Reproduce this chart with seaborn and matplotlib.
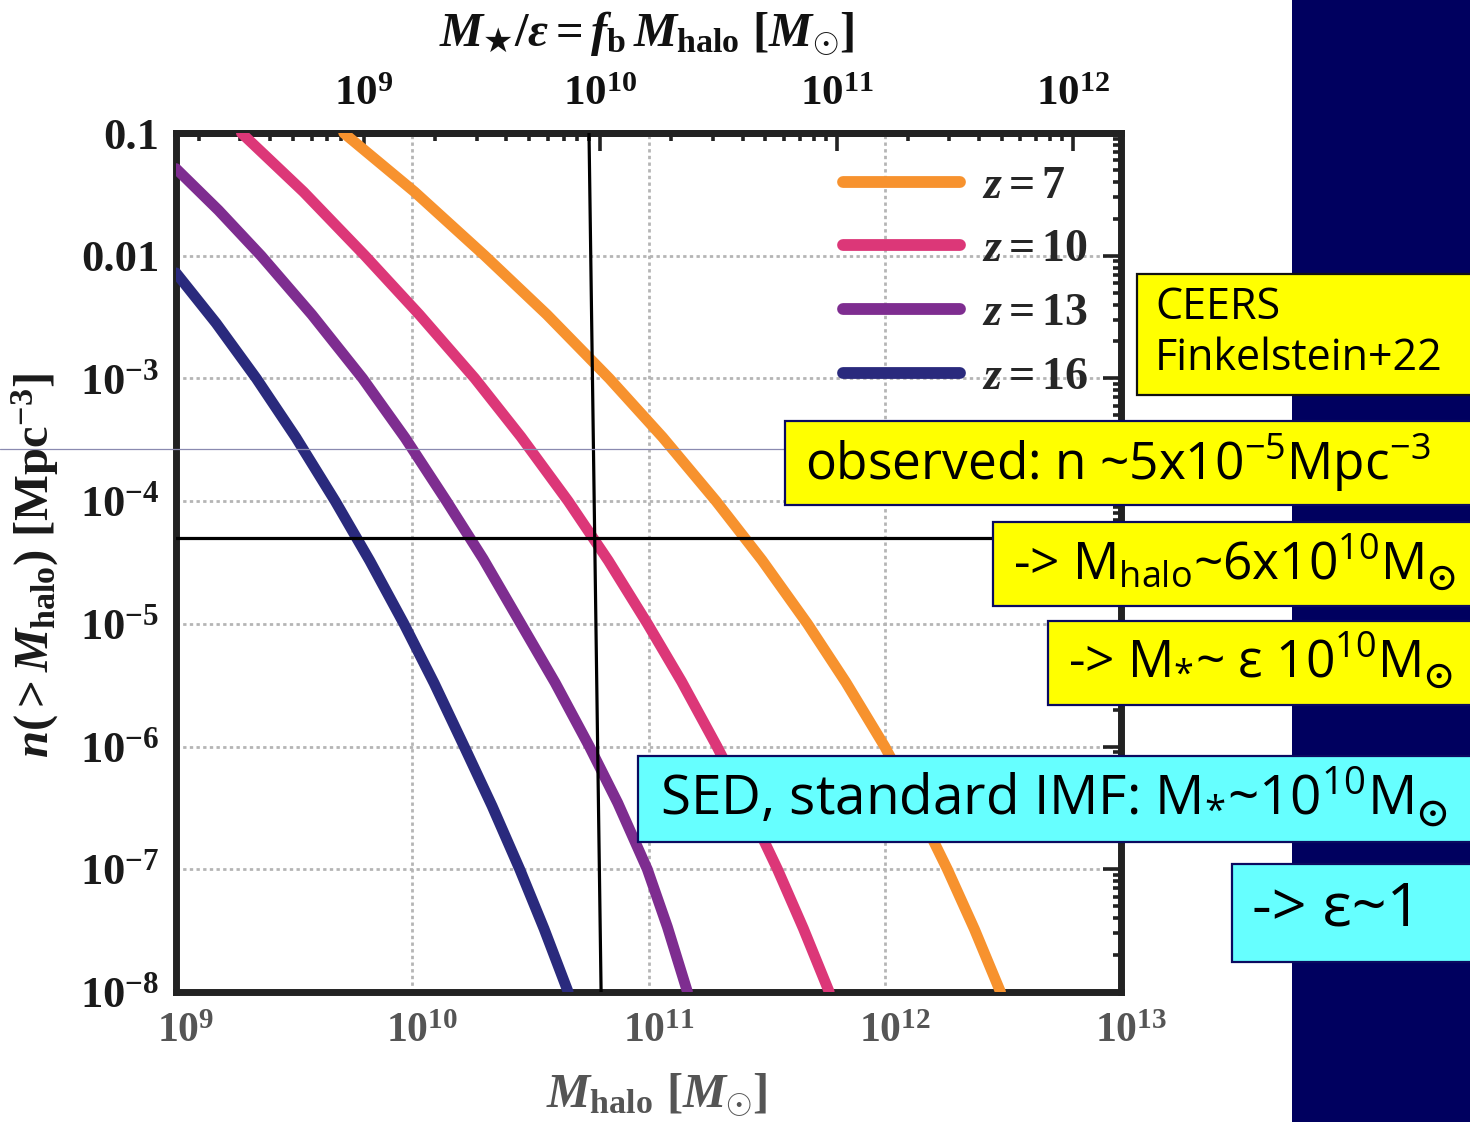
import numpy as np
import pandas as pd
import matplotlib
matplotlib.use("Agg")
import matplotlib.pyplot as plt
import matplotlib.transforms as mtransforms
import seaborn as sns
from matplotlib.ticker import FixedLocator, FixedFormatter, LogLocator, NullFormatter
from matplotlib.patches import Rectangle
from matplotlib.lines import Line2D

# ---------------------------------------------------------------- data
z_labels = ["$z = 7$", "$z = 10$", "$z = 13$", "$z = 16$"]
z_colors = ["#F7922E", "#DC3778", "#7E2D90", "#2A2A7D"]

# cumulative halo number density: log10 M_halo [Msun] vs log10 n(>M_halo) [Mpc^-3]
logM_z7 = [9.71, 10.01, 10.307, 10.57, 10.834, 11.06, 11.286, 11.48, 11.673,
           11.835, 12.00, 12.13, 12.265, 12.38, 12.49]
logn_z7 = [-1.00, -1.48, -2.00, -2.48, -3.00, -3.48, -4.00, -4.48, -5.00,
           -5.475, -6.00, -6.47, -7.00, -7.49, -8.00]

logM_z10 = [9.277, 9.54, 9.80, 10.03, 10.265, 10.46, 10.66, 10.83, 10.996,
            11.14, 11.29, 11.42, 11.546, 11.655, 11.765]
logn_z10 = [-1.00, -1.48, -2.00, -2.48, -3.00, -3.475, -4.00, -4.485, -5.00,
            -5.47, -6.00, -6.49, -7.00, -7.48, -8.00]

logM_z13 = [9.00, 9.18, 9.36, 9.575, 9.79, 9.97, 10.145, 10.30, 10.46,
            10.605, 10.75, 10.87, 10.995, 11.08, 11.165]
logn_z13 = [-1.29, -1.63, -2.00, -2.48, -3.00, -3.485, -4.00, -4.47, -5.00,
            -5.48, -6.00, -6.46, -7.00, -7.47, -8.00]

logM_z16 = [9.00, 9.17, 9.34, 9.507, 9.674, 9.82, 9.965, 10.093, 10.22,
            10.338, 10.455, 10.558, 10.66]
logn_z16 = [-2.14, -2.55, -3.00, -3.48, -4.00, -4.485, -5.00, -5.485, -6.00,
            -6.485, -7.00, -7.485, -8.00]

# observed abundance and the halo mass it implies
n_obs = 5e-5
vline_M = [5.6e10, 6.3e10]
vline_n = [0.1, 1e-8]

f_b = 0.16  # baryon fraction: M*/eps = f_b M_halo

x_ticks = [1e9, 1e10, 1e11, 1e12, 1e13]
x_ticklabels = ["$10^{9}$", "$10^{10}$", "$10^{11}$", "$10^{12}$", "$10^{13}$"]
top_ticks = [1e9, 1e10, 1e11, 1e12]
top_ticklabels = ["$10^{9}$", "$10^{10}$", "$10^{11}$", "$10^{12}$"]
y_ticks = [1e-8, 1e-7, 1e-6, 1e-5, 1e-4, 1e-3, 1e-2, 1e-1]
y_ticklabels = ["$10^{-8}$", "$10^{-7}$", "$10^{-6}$", "$10^{-5}$", "$10^{-4}$",
                "$10^{-3}$", "0.01", "0.1"]

frames = []
for lab, lm, ln in zip(z_labels,
                       [logM_z7, logM_z10, logM_z13, logM_z16],
                       [logn_z7, logn_z10, logn_z13, logn_z16]):
    frames.append(pd.DataFrame({"M": 10.0 ** np.array(lm),
                                "n": 10.0 ** np.array(ln),
                                "z": lab}))
df = pd.concat(frames, ignore_index=True)

# ---------------------------------------------------------------- style
sns.set_theme(style="white")
plt.rcParams["font.family"] = ["Liberation Serif", "DejaVu Serif"]
plt.rcParams["font.weight"] = "bold"
plt.rcParams["mathtext.fontset"] = "custom"
plt.rcParams["mathtext.rm"] = "Liberation Serif:bold"
plt.rcParams["mathtext.bf"] = "Liberation Serif:bold"
plt.rcParams["mathtext.it"] = "Liberation Serif:bold:italic"
plt.rcParams["mathtext.cal"] = "Liberation Serif:bold:italic"
plt.rcParams["mathtext.sf"] = "DejaVu Sans:bold"

W, H = 1470, 1122
fig = plt.figure(figsize=(W / 100, H / 100), dpi=100)
ax = fig.add_axes([176 / W, 1 - 992 / H, (1121 - 176) / W, (992 - 133) / H])

sns.lineplot(data=df, x="M", y="n", hue="z", palette=z_colors, sort=False,
             estimator=None, linewidth=7.8, ax=ax, zorder=3)
for ln in ax.get_lines():
    ln.set_solid_joinstyle("round")

ax.set_xscale("log")
ax.set_yscale("log")
ax.set_xlim(1e9, 1e13)
ax.set_ylim(1e-8, 0.1)

# observed density and corresponding halo mass
ax.axhline(n_obs, color="black", lw=2.3, zorder=4)
ax.plot(vline_M, vline_n, color="black", lw=2.3, zorder=4)

# axes frame and ticks
for s in ax.spines.values():
    s.set_linewidth(5)
    s.set_color("#222222")
ax.xaxis.set_major_locator(FixedLocator(x_ticks))
ax.xaxis.set_major_formatter(FixedFormatter(x_ticklabels))
ax.xaxis.set_minor_locator(LogLocator(base=10, subs=np.arange(2, 10), numticks=20))
ax.xaxis.set_minor_formatter(NullFormatter())
ax.yaxis.set_major_locator(FixedLocator(y_ticks))
ax.yaxis.set_major_formatter(FixedFormatter(y_ticklabels))
ax.yaxis.set_minor_locator(LogLocator(base=10, subs=np.arange(2, 10), numticks=20))
ax.yaxis.set_minor_formatter(NullFormatter())
ax.tick_params(which="both", direction="in", top=False, right=True,
               color="#222222", width=2.6)
ax.tick_params(which="major", length=13)
ax.tick_params(which="minor", length=5.5)
ax.tick_params(axis="x", which="major", labelsize=30, labelcolor="#555555", pad=15)
ax.tick_params(axis="y", which="major", labelsize=32, labelcolor="#1a1a1a", pad=12)

# bottom tick labels sit slightly right of their ticks
shift = mtransforms.ScaledTranslation(10 / 100, 0, fig.dpi_scale_trans)
for lbl in ax.get_xticklabels():
    lbl.set_transform(lbl.get_transform() + shift)

ax.grid(True, which="major", color="#b5b5b5", linestyle=(0, (1.2, 1.2)), lw=2)
ax.set_axisbelow(True)

ax.set_xlabel(r"$M_{\rm halo}\ [M_{\odot}]$", fontsize=35, color="#555555")
ax.xaxis.set_label_coords(0.509, -0.093)
ax.set_ylabel(r"$n(>M_{\rm halo})\ [{\rm Mpc}^{-3}]$", fontsize=35, color="#1a1a1a")
ax.yaxis.set_label_coords(-0.122, 0.497)

# top axis in units of M*/eps
secax = ax.secondary_xaxis("top", functions=(lambda m: f_b * m, lambda m: m / f_b))
secax.xaxis.set_major_locator(FixedLocator(top_ticks))
secax.xaxis.set_major_formatter(FixedFormatter(top_ticklabels))
secax.xaxis.set_minor_locator(LogLocator(base=10, subs=np.arange(2, 10), numticks=20))
secax.xaxis.set_minor_formatter(NullFormatter())
secax.tick_params(which="both", direction="in", color="#222222", width=2.6)
secax.tick_params(which="major", length=13, labelsize=31, labelcolor="#111111", pad=14)
secax.tick_params(which="minor", length=5.5)
secax.spines["top"].set_linewidth(5)
secax.spines["top"].set_color("#222222")
fig.text(647 / W, 1 - 34 / H,
         r"$M_{\mathsf{★}}/\varepsilon = f_{\rm b}\,M_{\rm halo}\ [M_{\odot}]$",
         fontsize=35, color="#111111", ha="center", va="center")

# legend
handles, labels = ax.get_legend_handles_labels()
leg = ax.legend(handles, labels, loc="upper left", bbox_to_anchor=(0.7055, 0.962),
                frameon=False, fontsize=33, handlelength=2.55, handletextpad=0.5,
                labelspacing=0.47, borderpad=0, borderaxespad=0)
for h in leg.get_lines():
    h.set_linewidth(8.5)

# ---------------------------------------------------------------- overlays
def fx(px):
    return px / W

def fy(py):
    return 1 - py / H

# dark side panel
fig.add_artist(Rectangle((fx(1292), 0), fx(W - 1292), 1, transform=fig.transFigure,
                         facecolor="#00005f", edgecolor="none", zorder=5))
# thin guide line
fig.add_artist(Line2D([0, fx(790)], [fy(449), fy(449)], transform=fig.transFigure,
                      color="#8a8ab0", lw=0.9, zorder=5))

box_font = ["Open Sans", "DejaVu Sans"]
boxes = [
    # (x0, y0, x1, y1, face, edge, text, fontsize, text_x, text_y)
    (1137, 274, 1475, 395, "#FFFF00", "#111111", "CEERS\nFinkelstein+22", 31, 1155, 333),
    (785, 421, 1475, 505, "#FFFF00", "#0a0a60",
     r"observed: n ~5x10$\mathregular{^{-5}}$Mpc$\mathregular{^{-3}}$", 37, 805, 463),
    (993, 522, 1475, 606, "#FFFF00", "#0a0a60",
     r"-> M$\mathregular{_{halo}}$~6x10$\mathregular{^{10}}$M$\mathregular{_{\odot}}$", 37, 1013, 562),
    (1048, 621, 1475, 705, "#FFFF00", "#0a0a60",
     r"-> M$\mathregular{_{*}}$~ ε 10$\mathregular{^{10}}$M$\mathregular{_{\odot}}$", 37, 1068, 660),
    (638, 756, 1475, 842, "#66FFFF", "#0a0a60",
     r"SED, standard IMF: M$\mathregular{_{*}}$~10$\mathregular{^{10}}$M$\mathregular{_{\odot}}$", 39.5, 660, 797),
    (1232, 864, 1475, 962, "#66FFFF", "#0a0a60", "-> ε~1", 44, 1252, 910),
]
for x0, y0, x1, y1, face, edge, txt, fs, tx, ty in boxes:
    fig.add_artist(Rectangle((fx(x0), fy(y1)), fx(x1 - x0), (y1 - y0) / H,
                             transform=fig.transFigure, facecolor=face,
                             edgecolor=edge, lw=1.6, zorder=6))
    fig.text(fx(tx), fy(ty), txt, fontsize=fs, family=box_font, weight="normal",
             color="black", ha="left", va="center", zorder=7, linespacing=1.2)

fig.savefig("out.png", dpi=100, facecolor="white")
